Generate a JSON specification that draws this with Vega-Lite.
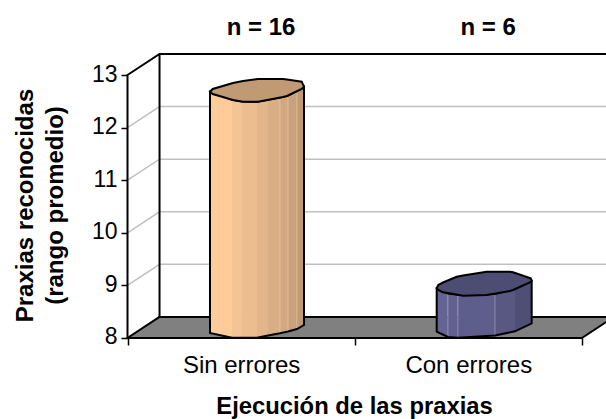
{
"$schema":"https://vega.github.io/schema/vega-lite/v6.json",
"width":606,"height":419,"padding":0,"autosize":{"type":"none"},
"background":"white",
"config":{"view":{"stroke":null},"font":"Liberation Sans"},
"encoding":{
"x":{"field":"x","type":"quantitative","scale":{"domain":[-0.5612,2.1061],"nice":false,"zero":false},
"axis":{"offset":-81,"orient":"bottom","values":[0,0.5,1,1.5,2],"grid":false,"domain":false,"tickColor":"black","tickWidth":1.5,"tickSize":7,"tickOpacity":{"expr":"datum.value % 1 === 0 ? 1 : 0"},"labelExpr":"datum.value === 0.5 ? 'Sin errores' : datum.value === 1.5 ? 'Con errores' : ''","labelFontSize":24,"labelColor":"black","labelPadding":8,"labelOverlap":false,"labelFlush":false,"title":"Ejecución de las praxias","titleFontSize":23.8,"titleFont":"Liberation Sans","titleFontWeight":"bold","titleColor":"black","titleX":354,"titleY":75.5,"titleAnchor":null,"titleAlign":"center","titleBaseline":"alphabetic"}},
"y":{"field":"y","type":"quantitative","stack":null,"scale":{"domain":[6.46,14.426],"nice":false,"zero":false},
"axis":{"offset":-127.5,"orient":"left","values":[8,9,10,11,12,13],"grid":false,"domain":false,"tickColor":"black","tickWidth":1.5,"tickSize":6.5,"labelFontSize":23,"labelColor":"black","labelPadding":4,"labelOffset":-1,"format":"d","title":["Praxias reconocidas","(rango promedio)"],"titleFontSize":24,"titleFont":"Liberation Sans","titleFontWeight":"bold","titleColor":"black","titleAngle":-90,"titleX":-95.5,"titleY":205,"titleAlign":"center","titleBaseline":"alphabetic","titleLineHeight":30}}
},
"layer":[
{"data":{"values":[
{"g":"9","i":0,"x":0,"y":9},{"g":"9","i":1,"x":0.141,"y":9.4},{"g":"9","i":2,"x":2.141,"y":9.4},
{"g":"10","i":0,"x":0,"y":10},{"g":"10","i":1,"x":0.141,"y":10.4},{"g":"10","i":2,"x":2.141,"y":10.4},
{"g":"11","i":0,"x":0,"y":11},{"g":"11","i":1,"x":0.141,"y":11.4},{"g":"11","i":2,"x":2.141,"y":11.4},
{"g":"12","i":0,"x":0,"y":12},{"g":"12","i":1,"x":0.141,"y":12.4},{"g":"12","i":2,"x":2.141,"y":12.4}
]},
"mark":{"type":"line","color":"#C0C0C0","strokeWidth":1.5},
"encoding":{"detail":{"field":"g"},"order":{"field":"i"}}},
{"data":{"values":[
{"x":0,"y":8,"y2":8},{"x":0.141,"y":8,"y2":8.4},{"x":2,"y":8,"y2":8.4},{"x":2.141,"y":8.4,"y2":8.4}
]},
"mark":{"type":"area","orient":"vertical","color":"#808080"},
"encoding":{"y2":{"field":"y2"}}},
{"data":{"values":[
{"g":"a","i":0,"x":0,"y":8},{"g":"a","i":1,"x":0,"y":13},{"g":"a","i":2,"x":0.141,"y":13.4},{"g":"a","i":3,"x":2.141,"y":13.4},
{"g":"b","i":0,"x":0.141,"y":13.4},{"g":"b","i":1,"x":0.141,"y":8.4},{"g":"b","i":2,"x":2.141,"y":8.4},
{"g":"c","i":0,"x":0.141,"y":8.4},{"g":"c","i":1,"x":0,"y":8},{"g":"c","i":2,"x":2,"y":8},{"g":"c","i":3,"x":2.141,"y":8.4}
]},
"mark":{"type":"line","color":"black","strokeWidth":2},
"encoding":{"detail":{"field":"g"},"order":{"field":"i"}}},
{"data":{"values":[
{"band":"o1","x":0.3631,"y":12.683,"y2":8.095},{"band":"o1","x":0.4599,"y":12.531,"y2":8.006},
{"band":"o2","x":0.4599,"y":12.531,"y2":8.006},{"band":"o2","x":0.504,"y":12.496,"y2":8.006},
{"band":"o3","x":0.504,"y":12.496,"y2":8.006},{"band":"o3","x":0.57,"y":12.492,"y2":8.006},
{"band":"o4","x":0.57,"y":12.492,"y2":8.006},{"band":"o4","x":0.6184,"y":12.529,"y2":8.046},
{"band":"o5","x":0.6184,"y":12.529,"y2":8.046},{"band":"o5","x":0.6712,"y":12.57,"y2":8.089},
{"band":"o6","x":0.6712,"y":12.57,"y2":8.089},{"band":"o6","x":0.7064,"y":12.61,"y2":8.124},
{"band":"o7","x":0.7064,"y":12.61,"y2":8.124},{"band":"o7","x":0.746,"y":12.696,"y2":8.171},
{"band":"o8","x":0.746,"y":12.696,"y2":8.171},{"band":"o8","x":0.7768,"y":12.778,"y2":8.247},
{"band":"b1","x":1.3609,"y":8.945,"y2":8.12},{"band":"b1","x":1.4102,"y":8.846,"y2":8.019},
{"band":"b2","x":1.4102,"y":8.846,"y2":8.019},{"band":"b2","x":1.4542,"y":8.821,"y2":8.006},
{"band":"b3","x":1.4542,"y":8.821,"y2":8.006},{"band":"b3","x":1.6175,"y":8.837,"y2":8.048},
{"band":"b4","x":1.6175,"y":8.837,"y2":8.048},{"band":"b4","x":1.7055,"y":8.932,"y2":8.127},
{"band":"b5","x":1.7055,"y":8.932,"y2":8.127},{"band":"b5","x":1.779,"y":9.084,"y2":8.279}
]},
"mark":{"type":"area","orient":"vertical"},
"encoding":{"y2":{"field":"y2"},"color":{"field":"band","type":"nominal","legend":null,"scale":{"domain":["o1","o2","o3","o4","o5","o6","o7","o8","b1","b2","b3","b4","b5"],"range":["#FFCC99","#F5C494","#ECBD8F","#E3B58A","#DAAE84","#D3A77F","#CBA17B","#C09A72","#636394","#616190","#5E5E8C","#585882","#4F4F76"]}}}},
{"data":{"values":[
{"x":0.6712,"y":12.57,"y2":8.089},{"x":0.7064,"y":12.61,"y2":8.124},{"x":0.746,"y":12.696,"y2":8.171},
{"x":1.4102,"y":8.846,"y2":8.019},{"x":1.4542,"y":8.821,"y2":8.006},{"x":1.6175,"y":8.837,"y2":8.048}
]},
"mark":{"type":"rule","color":"#FFFFFF","opacity":0.3,"strokeWidth":1},
"encoding":{"y2":{"field":"y2"}}},
{"data":{"values":[
{"g":"o","x":0.3631,"y":12.683,"y2":8.095},{"g":"o","x":0.4599,"y":12.531,"y2":8.006},{"g":"o","x":0.504,"y":12.496,"y2":8.006},{"g":"o","x":0.57,"y":12.492,"y2":8.006},{"g":"o","x":0.6184,"y":12.529,"y2":8.046},{"g":"o","x":0.6712,"y":12.57,"y2":8.089},{"g":"o","x":0.7064,"y":12.61,"y2":8.124},{"g":"o","x":0.746,"y":12.696,"y2":8.171},{"g":"o","x":0.7768,"y":12.778,"y2":8.247},
{"g":"b","x":1.3609,"y":8.945,"y2":8.12},{"g":"b","x":1.4102,"y":8.846,"y2":8.019},{"g":"b","x":1.4542,"y":8.821,"y2":8.006},{"g":"b","x":1.6175,"y":8.837,"y2":8.048},{"g":"b","x":1.7055,"y":8.932,"y2":8.127},{"g":"b","x":1.779,"y":9.084,"y2":8.279}
]},
"mark":{"type":"area","orient":"vertical","fillOpacity":0,"fill":"white","stroke":"black","strokeWidth":2},
"encoding":{"y2":{"field":"y2"},"detail":{"field":"g"}}},
{"data":{"values":[
{"g":"o","x":0.3631,"y":12.683,"y2":12.683},{"g":"o","x":0.375,"y":12.734,"y2":12.639},{"g":"o","x":0.4644,"y":12.848,"y2":12.525},{"g":"o","x":0.5084,"y":12.886,"y2":12.492},{"g":"o","x":0.5744,"y":12.924,"y2":12.492},{"g":"o","x":0.6844,"y":12.924,"y2":12.582},{"g":"o","x":0.702,"y":12.914,"y2":12.601},{"g":"o","x":0.7667,"y":12.873,"y2":12.734},{"g":"o","x":0.7768,"y":12.778,"y2":12.778}
]},
"mark":{"type":"area","orient":"vertical","fill":"#C09A72","stroke":"black","strokeWidth":2},
"encoding":{"y2":{"field":"y2"}}},
{"data":{"values":[
{"g":"b","x":1.3609,"y":8.945,"y2":8.945},{"g":"b","x":1.3679,"y":9.008,"y2":8.913},{"g":"b","x":1.3886,"y":9.055,"y2":8.869},{"g":"b","x":1.4489,"y":9.165,"y2":8.827},{"g":"b","x":1.4767,"y":9.188,"y2":8.804},{"g":"b","x":1.581,"y":9.26,"y2":8.817},{"g":"b","x":1.6835,"y":9.26,"y2":8.894},{"g":"b","x":1.6967,"y":9.249,"y2":8.913},{"g":"b","x":1.7746,"y":9.135,"y2":9.065},{"g":"b","x":1.779,"y":9.084,"y2":9.084}
]},
"mark":{"type":"area","orient":"vertical","fill":"#4D4D73","stroke":"black","strokeWidth":2},
"encoding":{"y2":{"field":"y2"}}},
{"data":{"values":[
{"x":0.5876,"y":13.89,"label":"n = 16"},{"x":1.587,"y":13.89,"label":"n = 6"}
]},
"mark":{"type":"text","fontSize":24,"fontWeight":"bold","color":"black","baseline":"middle","align":"center"},
"encoding":{"text":{"field":"label"}}}
]
}
